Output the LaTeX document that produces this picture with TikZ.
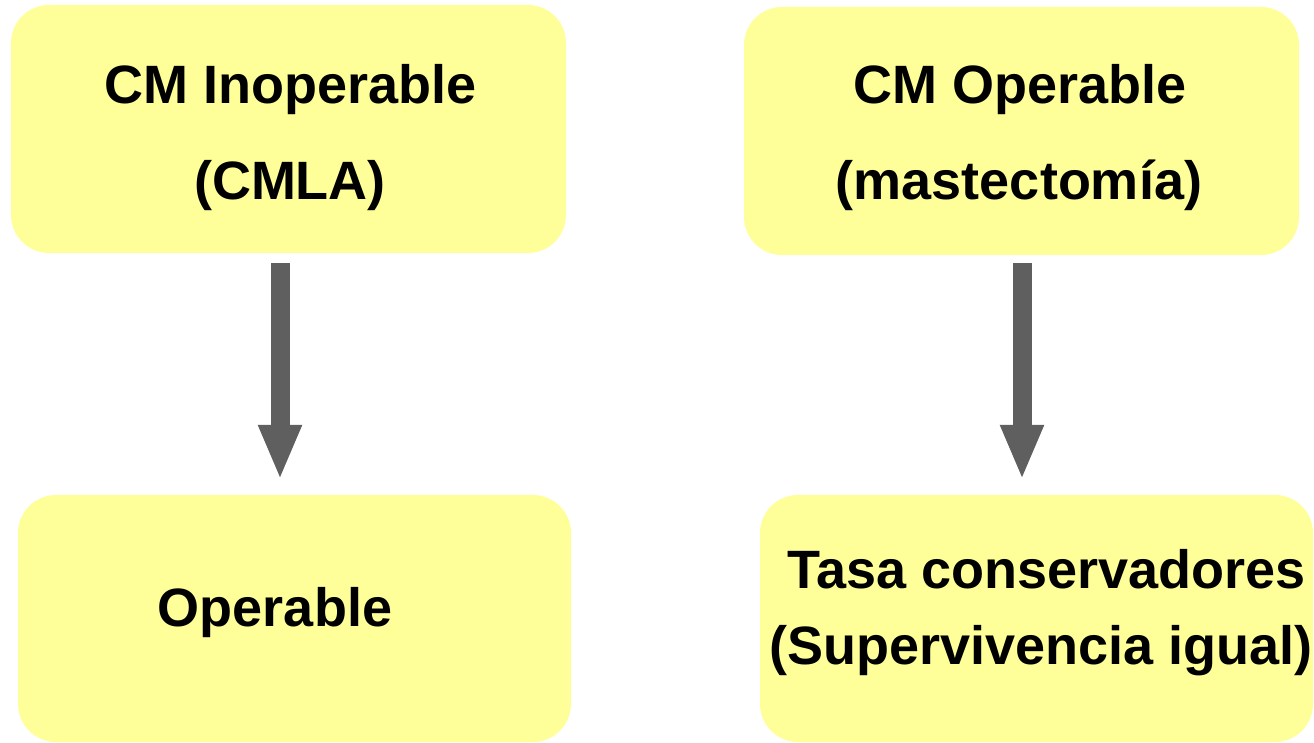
\documentclass[tikz,border=0pt]{standalone}
\usepackage{fontspec}
\setmainfont{Liberation Sans}
\usetikzlibrary{arrows.meta}
\definecolor{boxyellow}{HTML}{FFFF99}
\definecolor{arrowgray}{HTML}{5F5F5F}
\begin{document}
\begin{tikzpicture}[x=1pt,y=1pt,
  panel/.style={rectangle, rounded corners=38pt, fill=boxyellow, draw=none,
                minimum width=555pt, minimum height=248pt, inner sep=0pt},
  lbl/.style={anchor=base, inner sep=0pt, font=\fontsize{54}{64}\selectfont\bfseries},
  flow/.style={draw=arrowgray, line width=19pt,
               -{Triangle[length=55pt, width=40pt]}}]
\useasboundingbox (0,0) rectangle (1314,742);

% yellow panels
\node[panel] (b1) at (288.5,613) {};
\node[panel] (b2) at (1021.5,611) {};
\node[panel, minimum width=553pt, minimum height=247pt] (b3) at (294.5,123.5) {};
\node[panel, minimum width=553pt, minimum height=247pt] (b4) at (1036.5,123.5) {};

% texts
\node[lbl] (t1a) at (291,638) {CM Inoperable};
\node[lbl] (t1b) at (290,542) {(CMLA)};
\node[lbl] (t2a) at (1020,638) {CM Operable};
\node[lbl] (t2b) at (1019,542) {(mastectomía)};
\node[lbl] (t3)  at (275,116) {Operable};
\node[lbl] (t4a) at (1046.5,154) {Tasa conservadores};
\node[lbl] (t4b) at (1041,78) {(Supervivencia igual)};

% arrows
\draw[flow] ([xshift=-8.5pt,yshift=-10pt]b1.south) -- ([xshift=-14.5pt,yshift=15pt]b3.north);
\draw[flow] ([xshift=0.5pt,yshift=-8pt]b2.south) -- ([xshift=-14.5pt,yshift=15pt]b4.north);
\end{tikzpicture}
\end{document}
